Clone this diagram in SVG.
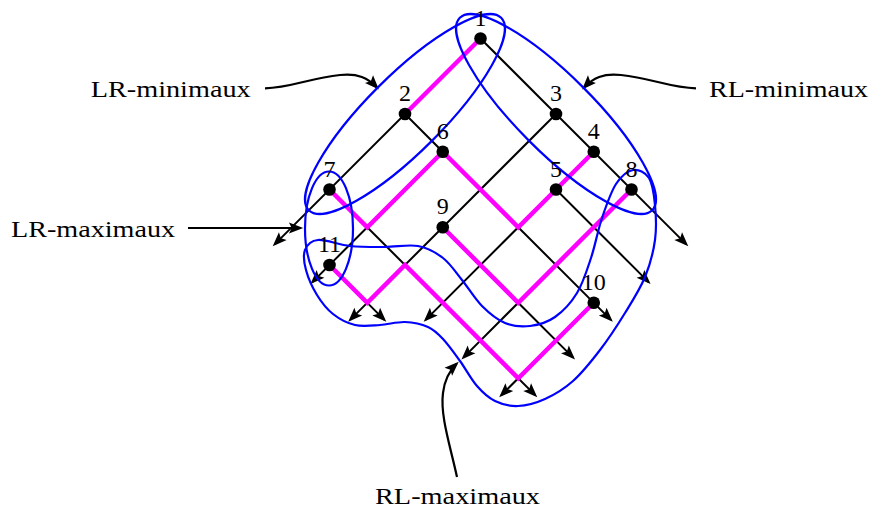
<svg xmlns="http://www.w3.org/2000/svg" width="872" height="509" viewBox="0 0 872 509">
<style>
.ln{fill:none;stroke:#000;stroke-width:2;marker-end:url(#ah)}
.mg{fill:none;stroke:#ff00ff;stroke-width:4.5;stroke-linejoin:miter;stroke-linecap:butt}
.bl{fill:none;stroke:#0000ff;stroke-width:2.2}
.dot{fill:#000}
.num{font-family:"Liberation Serif","DejaVu Serif",serif;font-size:24px;text-anchor:middle;fill:#000}
.lab{font-family:"Liberation Serif","DejaVu Serif",serif;font-size:24px;fill:#000}
.cn{fill:none;stroke:#000;stroke-width:2.2;marker-end:url(#ah)}
</style>
<defs>
<marker id="ah" markerUnits="userSpaceOnUse" orient="auto" markerWidth="22" markerHeight="22" refX="0" refY="0" viewBox="-13 -8 20 16" overflow="visible">
<path d="M2.5,0 L-10.5,-5 L-8,0 L-10.5,5 Z" fill="#000"/>
</marker>
</defs>
<rect width="872" height="509" fill="#fff"/>
<g id="connectors">
<line class="ln" x1="480.5" y1="38.5" x2="274.65" y2="244.35"/>
<line class="ln" x1="442.75" y1="151.75" x2="312.4" y2="282.1"/>
<line class="ln" x1="556" y1="114" x2="350.15" y2="319.85"/>
<line class="ln" x1="593.75" y1="151.75" x2="425.65" y2="319.85"/>
<line class="ln" x1="631.5" y1="189.5" x2="463.4" y2="357.6"/>
<line class="ln" x1="593.75" y1="302.75" x2="501.15" y2="395.35"/>
<line class="ln" x1="480.5" y1="38.5" x2="686.35" y2="244.35"/>
<line class="ln" x1="556" y1="189.5" x2="648.6" y2="282.1"/>
<line class="ln" x1="405" y1="114" x2="610.85" y2="319.85"/>
<line class="ln" x1="329.5" y1="265" x2="384.35" y2="319.85"/>
<line class="ln" x1="442.75" y1="227.25" x2="573.1" y2="357.6"/>
<line class="ln" x1="329.5" y1="189.5" x2="535.35" y2="395.35"/>
<path class="mg" d="M480.5,38.5 L405,114"/>
<path class="mg" d="M329.5,189.5 L367.25,227.25 L442.75,151.75"/>
<path class="mg" d="M442.75,151.75 L518.25,227.25 L593.75,151.75"/>
<path class="mg" d="M442.75,227.25 L518.25,302.75 L631.5,189.5"/>
<path class="mg" d="M329.5,265 L367.25,302.75 L405,265 L518.25,378.25 L593.75,302.75"/>
<path class="cn" d="M265,88.3 C290,88 310,78 340,75 C358,73 368,78 377,87.5"/>
<path class="cn" d="M696,88.3 C671,88 651,78 621,75 C603,73 593,78 584,87.5"/>
<path class="cn" d="M188,228 L300.5,228"/>
<path class="cn" d="M457,477 C450,445 440,415 443,393 C444.5,380 449,371 456.7,363.7"/>
</g>
<g id="lr-min-set"><ellipse class="bl" cx="405" cy="114" rx="136" ry="38" transform="rotate(-45 405 114)"/></g>
<g id="rl-min-set"><ellipse class="bl" cx="556" cy="114" rx="136" ry="38" transform="rotate(45 556 114)"/></g>
<g id="lr-max-set"><ellipse class="bl" cx="329" cy="228.5" rx="24" ry="57"/></g>
<g id="rl-max-set"><path class="bl" d="M633,170 C638.5,169 645.33,172.17 649,178 C652.67,183.83 654,194.67 655,205 C656,215.33 656.67,228 655,240 C653.33,252 650,264.83 645,277 C640,289.17 632.5,300.83 625,313 C617.5,325.17 608.67,338.67 600,350 C591.33,361.33 582.17,372.83 573,381 C563.83,389.17 554.17,394.83 545,399 C535.83,403.17 526.33,405.67 518,406 C509.67,406.33 501.83,404.33 495,401 C488.17,397.67 482.83,392.67 477,386 C471.17,379.33 465.67,368.83 460,361 C454.33,353.17 448.33,344.67 443,339 C437.67,333.33 434.33,329.83 428,327 C421.67,324.17 413,322.33 405,322 C397,321.67 388.33,324.5 380,325 C371.67,325.5 362.830,326.83 355,325 C347.17,323.17 339.33,319 333,314 C326.67,309 321.5,302.33 317,295 C312.5,287.67 308,277.5 306,270 C304,262.5 303,255 305,250 C307,245 310.5,240.67 318,240 C325.5,239.33 338.83,244.83 350,246 C361.17,247.17 373.67,247 385,247 C396.33,247 408.33,244.17 418,246 C427.67,247.83 435.67,252.33 443,258 C450.33,263.67 455.5,272 462,280 C468.5,288 474.83,298.83 482,306 C489.17,313.17 497,319.67 505,323 C513,326.33 521.67,327 530,326 C538.33,325 547.17,322.5 555,317 C562.83,311.5 571,302.83 577,293 C583,283.17 586.83,270.5 591,258 C595.17,245.5 597.83,230.33 602,218 C606.17,205.67 610.83,192 616,184 C621.17,176 627.5,171 633,170 Z"/></g>
<g id="n1"><circle class="dot" cx="480.5" cy="38.5" r="6.3"/><text class="num" x="480.5" y="25.5">1</text></g>
<g id="n2"><circle class="dot" cx="405" cy="114" r="6.3"/><text class="num" x="405" y="101">2</text></g>
<g id="n3"><circle class="dot" cx="556" cy="114" r="6.3"/><text class="num" x="556" y="101">3</text></g>
<g id="n4"><circle class="dot" cx="593.75" cy="151.75" r="6.3"/><text class="num" x="593.75" y="138.75">4</text></g>
<g id="n5"><circle class="dot" cx="556" cy="189.5" r="6.3"/><text class="num" x="556" y="176.5">5</text></g>
<g id="n6"><circle class="dot" cx="442.75" cy="151.75" r="6.3"/><text class="num" x="442.75" y="138.75">6</text></g>
<g id="n7"><circle class="dot" cx="329.5" cy="189.5" r="6.3"/><text class="num" x="329.5" y="176.5">7</text></g>
<g id="n8"><circle class="dot" cx="631.5" cy="189.5" r="6.3"/><text class="num" x="631.5" y="176.5">8</text></g>
<g id="n9"><circle class="dot" cx="442.75" cy="227.25" r="6.3"/><text class="num" x="442.75" y="214.25">9</text></g>
<g id="n10"><circle class="dot" cx="593.75" cy="302.75" r="6.3"/><text class="num" x="593.75" y="289.75">10</text></g>
<g id="n11"><circle class="dot" cx="329.5" cy="265" r="6.3"/><text class="num" x="329.5" y="252">11</text></g>
<g id="label-lr-min"><text class="lab" x="90.7" y="97" textLength="160" lengthAdjust="spacingAndGlyphs">LR-minimaux</text></g>
<g id="label-rl-min"><text class="lab" x="709" y="97" textLength="159" lengthAdjust="spacingAndGlyphs">RL-minimaux</text></g>
<g id="label-lr-max"><text class="lab" x="11" y="237" textLength="164" lengthAdjust="spacingAndGlyphs">LR-maximaux</text></g>
<g id="label-rl-max"><text class="lab" x="375" y="504" textLength="165" lengthAdjust="spacingAndGlyphs">RL-maximaux</text></g>
</svg>
